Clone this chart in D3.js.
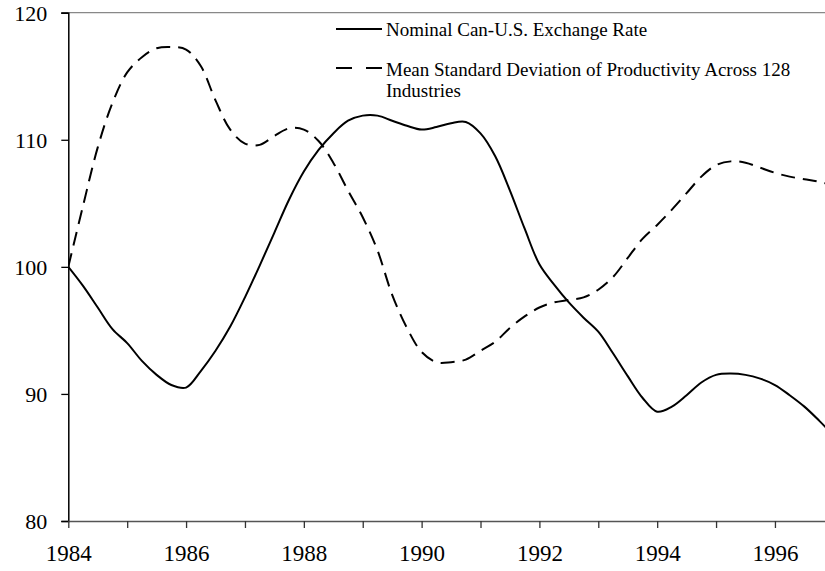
<!DOCTYPE html>
<html lang="en">
<head>
<meta charset="UTF-8">
<title>Exchange rate and productivity dispersion</title>
<style>
html, body { margin: 0; padding: 0; background: #fff; }
svg { display: block; font-family: 'Liberation Serif', 'Times New Roman', serif; }
.line { fill: none; stroke: #000; stroke-width: 2; }
.dashed { stroke-dasharray: 14, 8; }
.tick text { font-size: 22px; fill: #000; }
.legend text { font-size: 19px; fill: #000; }
</style>
</head>
<body>
<svg width="825" height="571"></svg>
<script src="https://cdnjs.cloudflare.com/ajax/libs/d3/7.8.5/d3.min.js"></script>
<script>
// quarterly observations, 1984Q1 onwards
const startYear = 1984;
const exchangeRate = [
  100.0, 98.5, 96.8, 95.1, 94.0, 92.6, 91.5, 90.7, 90.5, 91.8,
  93.4, 95.3, 97.6, 100.1, 102.7, 105.3, 107.5, 109.2, 110.5, 111.5,
  111.9, 111.9, 111.5, 111.1, 110.8, 111.0, 111.3, 111.4, 110.5, 108.7,
  106.0, 103.0, 100.2, 98.6, 97.2, 96.0, 94.9, 93.2, 91.4, 89.7,
  88.6, 89.0, 89.9, 90.9, 91.5, 91.6, 91.5, 91.2, 90.7, 89.9,
  89.0, 87.9, 86.7
];
const productivitySD = [
  100.0, 104.8, 109.4, 112.9, 115.3, 116.5, 117.2, 117.3, 117.1, 115.8,
  113.1, 110.8, 109.7, 109.6, 110.3, 110.9, 110.8, 109.9, 108.2, 106.0,
  103.9, 101.3, 97.8, 95.2, 93.3, 92.5, 92.5, 92.7, 93.4, 94.1,
  95.2, 96.1, 96.8, 97.2, 97.4, 97.6, 98.2, 99.2, 100.7, 102.2,
  103.3, 104.5, 105.8, 107.1, 108.0, 108.3, 108.2, 107.8, 107.4, 107.1,
  106.9, 106.7, 106.4
];
const yearTicks = [1984, 1986, 1988, 1990, 1992, 1994, 1996];
const valueTicks = [80, 90, 100, 110, 120];
const legendLabels = [
  ['Nominal Can-U.S. Exchange Rate'],
  ['Mean Standard Deviation of Productivity Across 128', 'Industries']
];

const svg = d3.select('svg');
const serif = "'Liberation Serif', 'Times New Roman', serif";
const plotLeft = 68.3, plotRight = 825, plotTop = 12.7, plotBottom = 521;

const x = d3.scaleLinear().domain([1984, 1996.85]).range([plotLeft, plotRight]);
const y = d3.scaleLinear().domain([80, 120]).range([plotBottom, plotTop]);

svg.append('clipPath').attr('id', 'plot')
  .append('rect').attr('x', plotLeft).attr('y', 0).attr('width', plotRight - plotLeft).attr('height', 571);

// top border at 120
svg.append('line')
  .attr('x1', plotLeft - 7).attr('x2', plotRight)
  .attr('y1', y(120)).attr('y2', y(120))
  .attr('stroke', '#888').attr('stroke-width', 1.3);

// y axis
const yAxis = svg.append('g')
  .attr('transform', `translate(${plotLeft},0)`)
  .call(d3.axisLeft(y).tickValues(valueTicks).tickSize(7).tickPadding(14));
yAxis.attr('font-family', serif);
yAxis.select('.domain').attr('stroke', '#000').attr('stroke-width', 1.5);
yAxis.selectAll('.tick line').attr('stroke-width', 1.3);
yAxis.selectAll('.tick text').attr('dy', '0.34em');

// x axis: minor ticks every year, labels every second year
const xAxis = svg.append('g')
  .attr('transform', `translate(0,${plotBottom})`)
  .call(d3.axisBottom(x).tickValues(d3.range(1984, 1997)).tickSize(7).tickPadding(17)
    .tickFormat(d => yearTicks.includes(d) ? d : ''));
xAxis.attr('font-family', serif);
xAxis.select('.domain').attr('stroke', '#555').attr('stroke-width', 1.5)
  .attr('d', `M${plotLeft},0.5H${plotRight}`);
xAxis.selectAll('.tick line').attr('stroke', '#333').attr('stroke-width', 1.3);
xAxis.selectAll('.tick text').style('font-size', '23px');

const line = d3.line()
  .x((d, i) => x(startYear + i / 4))
  .y(d => y(d))
  .curve(d3.curveCatmullRom.alpha(0.5));

const plot = svg.append('g').attr('clip-path', 'url(#plot)');
plot.append('path').datum(productivitySD).attr('class', 'line dashed').attr('d', line);
plot.append('path').datum(exchangeRate).attr('class', 'line').attr('d', line);

// legend
const legend = svg.append('g').attr('class', 'legend');
legend.append('line').attr('x1', 336).attr('x2', 382).attr('y1', 29).attr('y2', 29)
  .attr('stroke', '#000').attr('stroke-width', 2);
legend.append('line').attr('x1', 336).attr('x2', 382).attr('y1', 68).attr('y2', 68)
  .attr('stroke', '#000').attr('stroke-width', 2).attr('stroke-dasharray', '16,14');
legend.append('text').attr('x', 386).attr('y', 36).text(legendLabels[0][0]);
legend.append('text').attr('x', 386).attr('y', 76).text(legendLabels[1][0]);
legend.append('text').attr('x', 386).attr('y', 97).text(legendLabels[1][1]);
</script>
</body>
</html>
